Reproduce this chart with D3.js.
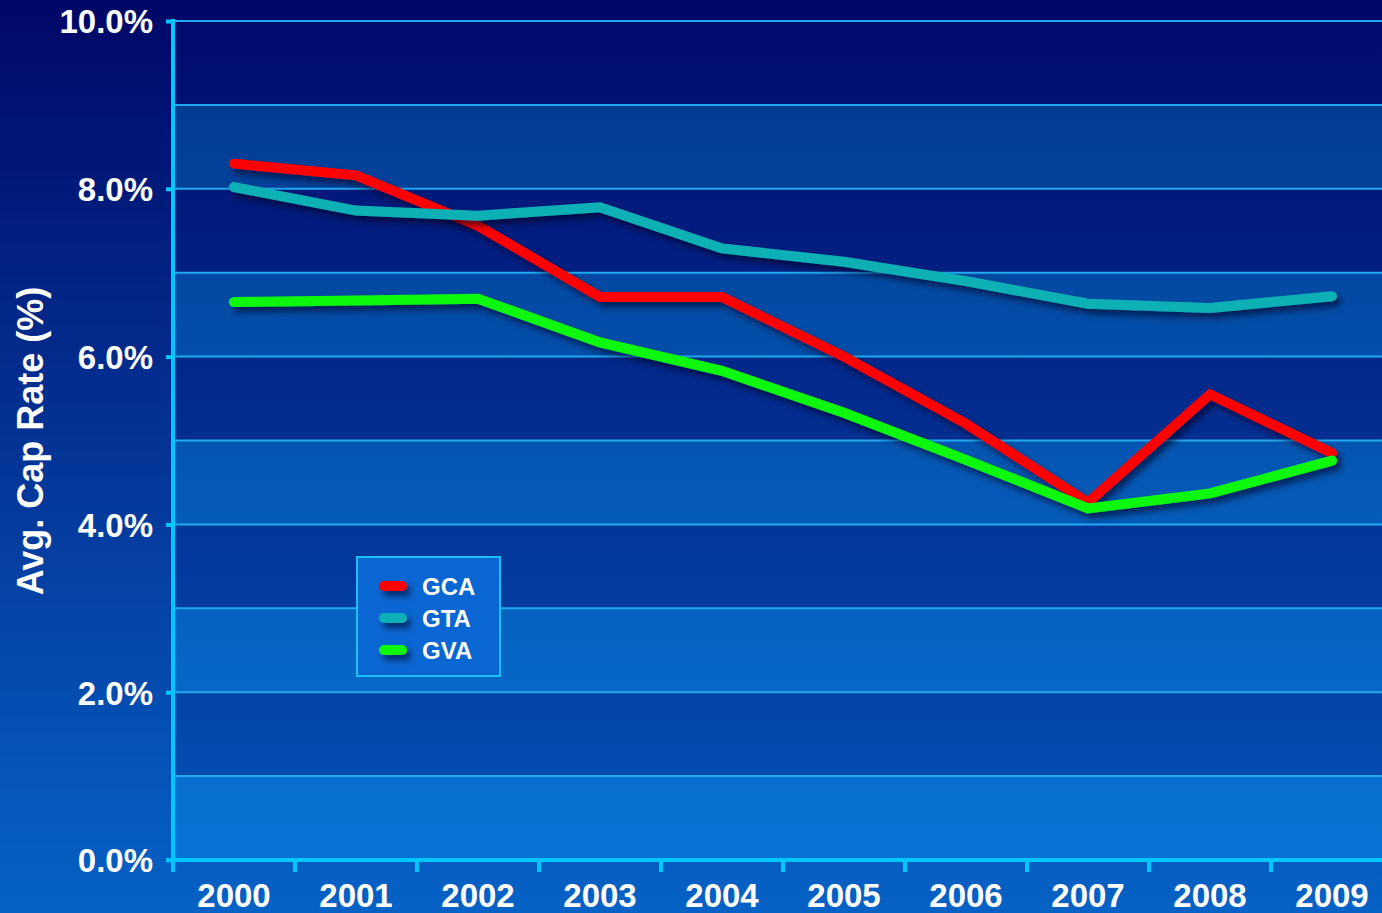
<!DOCTYPE html>
<html>
<head>
<meta charset="utf-8">
<script src="https://cdn.jsdelivr.net/npm/d3@7"></script>
<style>
  body { margin: 0; overflow: hidden; }
  svg { display: block; font-family: "Liberation Sans", Arial, sans-serif; font-weight: bold; }
</style>
</head>
<body>
<svg width="1382" height="913"></svg>
<script>
// values (percent)
var years = ["2000", "2001", "2002", "2003", "2004", "2005", "2006", "2007", "2008", "2009"];
var gca = [8.30, 8.16, 7.56, 6.71, 6.71, 6.00, 5.20, 4.26, 5.55, 4.85];
var gta = [8.02, 7.74, 7.68, 7.78, 7.29, 7.13, 6.90, 6.63, 6.58, 6.72];
var gva = [6.65, 6.67, 6.69, 6.17, 5.83, 5.33, 4.77, 4.19, 4.37, 4.76];
var yTicks = [0, 2, 4, 6, 8, 10];

var seriesList = [
    { name: "GCA", values: gca, color: "#ff0606" },
    { name: "GTA", values: gta, color: "#10b0b4" },
    { name: "GVA", values: gva, color: "#0cf80c" }
];

var svg = d3.select("svg");
var W = 1382, H = 913;
var margin = { top: 21, right: -11, bottom: 53, left: 173 };
var width = W - margin.left - margin.right;
var height = H - margin.top - margin.bottom;

var defs = svg.append("defs");
function vGrad(id, y2, c1, c2) {
    var gr = defs.append("linearGradient").attr("id", id)
        .attr("gradientUnits", "userSpaceOnUse")
        .attr("x1", 0).attr("y1", 0).attr("x2", 0).attr("y2", y2);
    gr.append("stop").attr("offset", "0%").attr("stop-color", c1);
    gr.append("stop").attr("offset", "100%").attr("stop-color", c2);
}
vGrad("bg", H, "#000766", "#0662c6");
vGrad("darkband", height, "#000a6c", "#0452b6");
vGrad("lightband", height, "#00358c", "#0874d6");

// shadow filter in user space so thin/flat shapes still render
var sh = defs.append("filter").attr("id", "shadow")
    .attr("filterUnits", "userSpaceOnUse")
    .attr("x", -50).attr("y", -50).attr("width", W + 100).attr("height", H + 100);
sh.append("feDropShadow").attr("dx", 4).attr("dy", 5).attr("stdDeviation", 3)
    .attr("flood-color", "#000022").attr("flood-opacity", 0.6);

svg.append("rect").attr("width", W).attr("height", H).attr("fill", "url(#bg)");

var x = d3.scaleBand().domain(years).range([0, width]);
var y = d3.scaleLinear().domain([0, 10]).range([height, 0]);

var g = svg.append("g").attr("transform", `translate(${margin.left},${margin.top})`);

// plot background and alternating bands
g.append("rect").attr("width", width).attr("height", height).attr("fill", "url(#darkband)");
g.selectAll("rect.band")
    .data(d3.range(0, 10).filter(function (d) { return d % 2 === 0; }))
    .enter().append("rect")
    .attr("class", "band")
    .attr("x", 0).attr("width", width)
    .attr("y", function (d) { return y(d + 1); })
    .attr("height", function (d) { return y(d) - y(d + 1); })
    .attr("fill", "url(#lightband)");

// gridlines every 1%
g.selectAll("line.grid")
    .data(d3.range(1, 11))
    .enter().append("line")
    .attr("class", "grid")
    .attr("x1", 0).attr("x2", width)
    .attr("y1", function (d) { return y(d); }).attr("y2", function (d) { return y(d); })
    .attr("stroke", "#22aaf0").attr("stroke-width", 2);

// lines
var line = d3.line()
    .x(function (d, i) { return x(years[i]) + x.bandwidth() / 2; })
    .y(function (d) { return y(d); });

g.selectAll("path.series")
    .data(seriesList)
    .enter().append("path")
    .attr("class", "series")
    .attr("d", function (d) { return line(d.values); })
    .attr("fill", "none")
    .attr("stroke", function (d) { return d.color; })
    .attr("stroke-width", 10)
    .attr("stroke-linecap", "round")
    .attr("stroke-linejoin", "miter")
    .attr("filter", "url(#shadow)");

// axes
var yAxis = g.append("g")
    .call(d3.axisLeft(y).tickValues(yTicks).tickSize(7)
        .tickFormat(function (d) { return d.toFixed(1) + "%"; }));
yAxis.select(".domain").remove();
yAxis.selectAll(".tick line").attr("stroke", "#00c8ff").attr("stroke-width", 4);
yAxis.selectAll(".tick text").attr("fill", "#fff").attr("font-size", 33)
    .attr("font-weight", "bold").attr("x", -20).attr("dy", "0.36em");

var xAxis = g.append("g").attr("transform", `translate(0,${height})`)
    .call(d3.axisBottom(x).tickSize(0).tickPadding(0));
xAxis.select(".domain").remove();
xAxis.selectAll(".tick text").attr("fill", "#fff").attr("font-size", 33)
    .attr("font-weight", "bold").attr("y", 24).attr("dy", "0.71em");

// category boundary ticks
g.selectAll("line.xtick")
    .data(years.concat(["end"]))
    .enter().append("line")
    .attr("class", "xtick")
    .attr("x1", function (d, i) { return i * x.step(); })
    .attr("x2", function (d, i) { return i * x.step(); })
    .attr("y1", height).attr("y2", height + 12)
    .attr("stroke", "#00c8ff").attr("stroke-width", 4);

g.append("line").attr("x1", 0).attr("x2", 0).attr("y1", -2).attr("y2", height + 12)
    .attr("stroke", "#00c8ff").attr("stroke-width", 4);
g.append("line").attr("x1", -7).attr("x2", width).attr("y1", height).attr("y2", height)
    .attr("stroke", "#00c8ff").attr("stroke-width", 4);

// y title
svg.append("text")
    .attr("transform", "translate(43,441) rotate(-90)")
    .attr("text-anchor", "middle")
    .attr("fill", "#fff").attr("font-size", 36)
    .text("Avg. Cap Rate (%)");

// legend
var lg = svg.append("g").attr("transform", "translate(357,557)");
lg.append("rect").attr("width", 143).attr("height", 119)
    .attr("fill", "#0a66d2").attr("stroke", "#1cc0f0").attr("stroke-width", 2);
var item = lg.selectAll("g.item").data(seriesList).enter().append("g")
    .attr("class", "item")
    .attr("transform", function (d, i) { return `translate(0,${29 + i * 32})`; });
item.append("rect").attr("x", 22).attr("y", -5).attr("width", 28).attr("height", 10)
    .attr("rx", 5)
    .attr("fill", function (d) { return d.color; }).attr("filter", "url(#shadow)");
item.append("text").attr("x", 65).attr("dy", "0.36em")
    .attr("fill", "#fff").attr("font-size", 24).text(function (d) { return d.name; });
</script>
</body>
</html>
